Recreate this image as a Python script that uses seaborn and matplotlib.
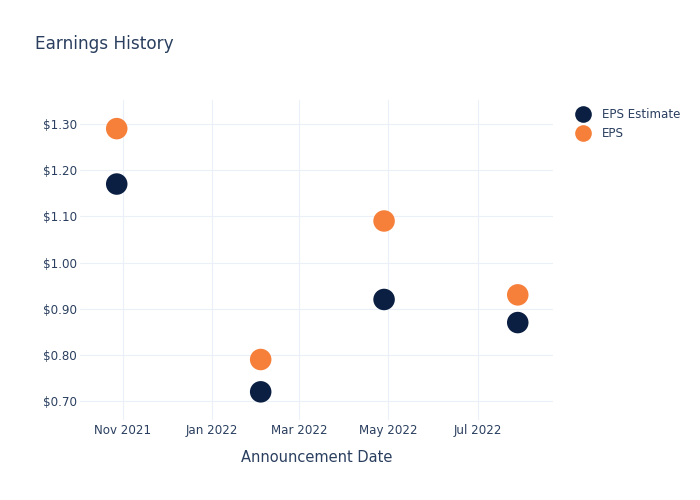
import matplotlib
matplotlib.use("Agg")
import matplotlib.pyplot as plt
import matplotlib.dates as mdates
import matplotlib.ticker as mticker
import seaborn as sns
import pandas as pd

dates = ["2021-10-28", "2022-02-03", "2022-04-28", "2022-07-28"]
eps_estimate = [1.17, 0.72, 0.92, 0.87]
eps_actual = [1.29, 0.79, 1.09, 0.93]
series_names = ["EPS Estimate", "EPS"]
colors = ["#0b1f42", "#f6803a"]

df = pd.DataFrame({
    "date": pd.to_datetime(dates * 2),
    "value": eps_estimate + eps_actual,
    "series": [series_names[0]] * len(dates) + [series_names[1]] * len(dates),
})

sns.set_style("white")
plt.rcParams["font.family"] = ["DejaVu Sans"]
text_color = "#2a3f5f"

fig = plt.figure(figsize=(7, 5), dpi=100)
ax = fig.add_axes([80 / 700, 1 - 420 / 500, 473 / 700, 320 / 500])

sns.scatterplot(data=df, x="date", y="value", hue="series", palette=colors,
                hue_order=series_names, s=240, linewidth=0, ax=ax, zorder=3)

ax.set_xlim(pd.Timestamp("2021-10-03"), pd.Timestamp("2022-08-21"))
ax.set_ylim(0.659, 1.352)
ax.xaxis.set_major_locator(mdates.MonthLocator(bymonth=[1, 3, 5, 7, 11]))
ax.xaxis.set_major_formatter(mdates.DateFormatter("%b %Y"))
ax.set_yticks([0.7, 0.8, 0.9, 1.0, 1.1, 1.2, 1.3])
ax.yaxis.set_major_formatter(mticker.FuncFormatter(lambda v, p: f"${v:.2f}"))

ax.grid(True, color="#ebf0f8", linewidth=0.8)
ax.set_axisbelow(True)
for s in ax.spines.values():
    s.set_visible(False)
ax.tick_params(axis="y", length=0, labelsize=8.6, colors=text_color, pad=2)
ax.tick_params(axis="x", length=0, labelsize=8.6, colors=text_color, pad=3)

ax.set_xlabel("Announcement Date", fontsize=10.5, color=text_color, labelpad=9)
ax.set_ylabel("")

fig.text(35 / 700, 1 - 44 / 500, "Earnings History", fontsize=12.2, color=text_color,
         va="center", ha="left")

handles, labels = ax.get_legend_handles_labels()
for h in handles:
    if hasattr(h, "set_markersize"):
        h.set_markersize(12)
leg = ax.legend(handles, labels, loc="upper left", bbox_to_anchor=(1.02, 1.0), frameon=False,
                fontsize=8.6, handletextpad=0.6, labelspacing=0.45, borderaxespad=0.3)
for t in leg.get_texts():
    t.set_color(text_color)

fig.savefig("out.png", dpi=100)
